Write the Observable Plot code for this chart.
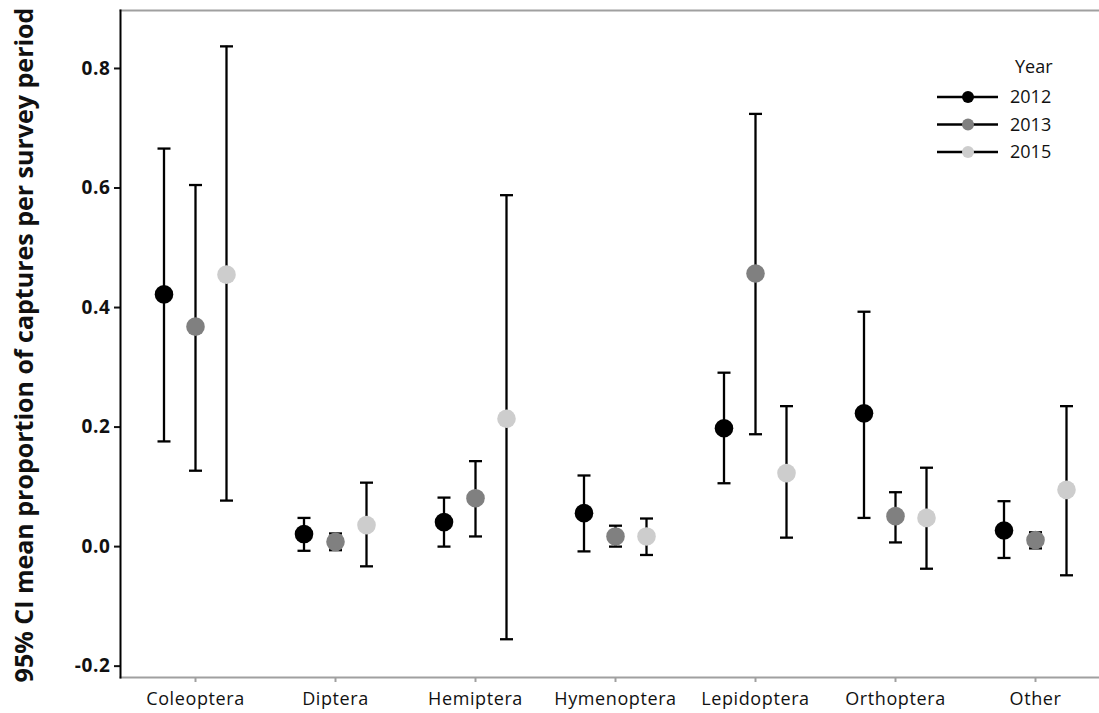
<!DOCTYPE html>
<html>
<head>
<meta charset="utf-8">
<script src="https://cdn.jsdelivr.net/npm/d3@7"></script>
<script src="https://cdn.jsdelivr.net/npm/@observablehq/plot@0.6"></script>
<style>
  html, body { margin: 0; padding: 0; background: #fff; }
  #chart { position: relative; width: 1099px; height: 713px; overflow: hidden; }
</style>
</head>
<body>
<div id="chart"></div>
<script>
// ---- data ----
const categories = ["Coleoptera", "Diptera", "Hemiptera", "Hymenoptera", "Lepidoptera", "Orthoptera", "Other"];
const years = ["2012", "2013", "2015"];
const yearColors = ["#000000", "#808080", "#cdcdcd"];

const mean2012  = [0.422, 0.021, 0.041, 0.056, 0.198, 0.223, 0.027];
const lower2012 = [0.176, -0.007, 0.000, -0.008, 0.106, 0.048, -0.019];
const upper2012 = [0.666, 0.048, 0.082, 0.119, 0.291, 0.393, 0.076];

const mean2013  = [0.368, 0.008, 0.081, 0.017, 0.457, 0.051, 0.011];
const lower2013 = [0.127, -0.006, 0.017, 0.000, 0.188, 0.007, -0.003];
const upper2013 = [0.605, 0.022, 0.143, 0.035, 0.724, 0.091, 0.024];

const mean2015  = [0.455, 0.036, 0.214, 0.017, 0.123, 0.048, 0.095];
const lower2015 = [0.077, -0.033, -0.155, -0.014, 0.015, -0.037, -0.048];
const upper2015 = [0.837, 0.107, 0.588, 0.047, 0.235, 0.132, 0.235];

const yTicks = [-0.2, 0.0, 0.2, 0.4, 0.6, 0.8];
const yTitle = "95% CI mean proportion of captures per survey period";

// ---- build table ----
const series = {
  "2012": [mean2012, lower2012, upper2012],
  "2013": [mean2013, lower2013, upper2013],
  "2015": [mean2015, lower2015, upper2015]
};
const table = [];
years.forEach(yr => {
  const [m, lo, hi] = series[yr];
  categories.forEach((c, i) => table.push({category: c, year: yr, mean: m[i], lower: lo[i], upper: hi[i]}));
});

// horizontal cap symbol
const capSymbol = {
  draw(context, size) {
    const w = Math.sqrt(size / Math.PI);
    context.moveTo(-w, 0);
    context.lineTo(w, 0);
  }
};

const dxByYear = {"2012": -31.5, "2013": 0, "2015": 31};
const font = "'Open Sans', 'Segoe UI', sans-serif";

const marks = [
  Plot.frame({anchor: "top", stroke: "#a0a0a0", strokeWidth: 2}),
  Plot.frame({anchor: "bottom", stroke: "#a0a0a0", strokeWidth: 2}),
  Plot.axisX({
    ticks: categories, tickSize: 5, tickPadding: 10, stroke: "#a0a0a0", strokeWidth: 2,
    fontSize: 18, label: null, tickFormat: d => d, color: "#111"
  }),
  Plot.axisY({
    ticks: yTicks, tickSize: 6, tickPadding: 4, tickFormat: d => d.toFixed(1),
    fontSize: 19, fontWeight: "bold", label: null, strokeWidth: 2
  }),
  Plot.frame({anchor: "left", stroke: "#000", strokeWidth: 2})
];

years.forEach((yr, k) => {
  const data = table.filter(d => d.year === yr);
  marks.push(
    Plot.ruleX(data, {x: "category", y1: "lower", y2: "upper", dx: dxByYear[yr], stroke: "#000", strokeWidth: 2.3}),
    Plot.dot(data, {x: "category", y: "upper", dx: dxByYear[yr], symbol: capSymbol, r: 6.5, stroke: "#000", strokeWidth: 2.3}),
    Plot.dot(data, {x: "category", y: "lower", dx: dxByYear[yr], symbol: capSymbol, r: 6.5, stroke: "#000", strokeWidth: 2.3}),
    Plot.dot(data, {x: "category", y: "mean", dx: dxByYear[yr], r: 9.3, fill: yearColors[k], stroke: "none"})
  );
});

const plot = Plot.plot({
  width: 1099,
  height: 713,
  marginLeft: 120,
  marginRight: 0,
  marginTop: 10,
  marginBottom: 36,
  style: {fontFamily: font, background: "#fff", color: "#111"},
  x: {type: "point", domain: categories, range: [192, 1037], padding: 0},
  y: {domain: [-0.219, 0.897]},
  marks
});

const svg = d3.select(plot);
svg.selectAll("g[aria-label='x-axis tick label'] text, g[aria-label='y-axis tick label'] text")
  .style("letter-spacing", "0.6px");

// y-axis title
svg.append("text")
  .attr("transform", "translate(23,345) rotate(-90)")
  .attr("text-anchor", "middle")
  .attr("dominant-baseline", "central")
  .style("font-family", font)
  .style("font-size", "25px")
  .style("font-weight", "bold")
  .style("fill", "#111")
  .text(yTitle);

// legend
const leg = svg.append("g").attr("transform", "translate(937,0)");
leg.append("text")
  .attr("x", 78).attr("y", 67).attr("dy", "0.35em")
  .attr("text-anchor", "start")
  .style("font-family", font).style("font-size", "18px").style("fill", "#111")
  .text("Year");
years.forEach((yr, k) => {
  const y = 97 + k * 27.5;
  leg.append("line").attr("x1", 0).attr("x2", 61).attr("y1", y).attr("y2", y)
    .attr("stroke", "#000").attr("stroke-width", 2.3);
  leg.append("circle").attr("cx", 31).attr("cy", y).attr("r", 6).attr("fill", yearColors[k]);
  leg.append("text").attr("x", 73).attr("y", y).attr("dy", "0.35em")
    .attr("text-anchor", "start")
    .style("font-family", font).style("font-size", "18px").style("fill", "#111")
    .text(yr);
});

document.getElementById("chart").append(plot);
</script>
</body>
</html>
